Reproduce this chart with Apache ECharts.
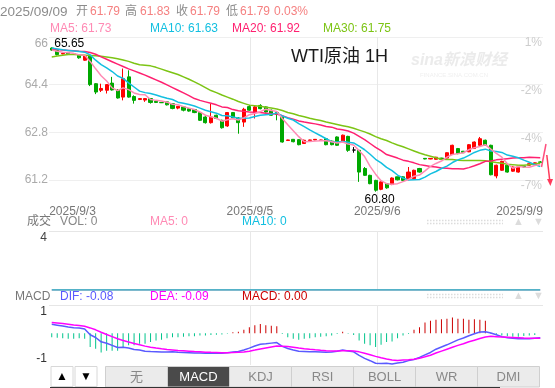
<!DOCTYPE html>
<html><head><meta charset="utf-8">
<script src="https://cdn.jsdelivr.net/npm/echarts@6/dist/echarts.min.js"></script>
<style>html,body{margin:0;padding:0;background:#fff;}#c{width:555px;height:388px;}</style>
</head><body><div id="c"></div>
<script>
// ---- candle data (WTI 1H) ----
const opens = [65.63,65.55,65.43,65.47,65.42,65.38,65.22,65.36,64.43,64.21,64.21,64.45,64.21,63.98,64.66,64.00,63.90,63.88,63.93,63.84,63.80,63.82,63.76,63.61,63.65,63.59,63.56,63.46,63.31,63.12,63.37,63.20,63.01,63.46,63.28,63.14,63.66,63.46,63.70,63.65,63.54,63.46,63.31,62.52,62.56,62.55,62.42,62.52,62.54,62.52,62.58,62.50,62.64,62.47,62.66,62.20,62.19,61.58,61.35,61.18,60.88,61.07,61.04,61.30,61.30,61.24,61.24,61.58,61.92,61.90,61.89,61.93,61.93,62.05,62.25,62.16,62.14,62.25,62.36,62.53,62.36,61.33,61.52,61.69,61.49,61.46,61.66,61.69,61.71,61.80];
const closes = [65.56,65.41,65.45,65.41,65.43,65.30,65.36,64.40,64.15,64.27,64.40,64.22,63.95,64.60,63.98,63.87,63.93,63.93,63.80,63.80,63.79,63.72,63.60,63.67,63.54,63.51,63.46,63.20,63.12,63.31,63.26,62.95,63.46,63.28,63.12,63.57,63.54,63.65,63.59,63.48,63.37,63.40,62.47,62.54,62.48,62.38,62.53,62.54,62.56,62.54,62.38,62.38,62.36,62.70,62.19,62.20,61.46,61.35,61.07,60.85,61.13,60.93,61.26,61.20,61.18,61.46,61.52,61.46,61.90,61.92,61.96,61.89,62.11,62.36,62.08,62.11,62.38,62.47,62.58,62.36,61.37,61.69,61.82,61.46,61.63,61.63,61.63,61.74,61.77,61.79];
const lows = [65.53,65.38,65.42,65.40,65.40,65.27,65.20,64.35,64.08,64.15,64.10,64.20,63.93,63.87,63.96,63.76,63.88,63.82,63.76,63.78,63.78,63.70,63.57,63.57,63.50,63.49,63.44,63.18,63.09,63.09,63.24,62.92,62.98,63.26,62.75,62.98,63.52,63.26,63.57,63.46,63.35,63.20,62.45,62.51,62.46,62.36,62.41,62.51,62.53,62.51,62.36,62.36,62.34,62.45,62.14,62.11,61.13,61.33,61.05,60.80,60.85,60.90,61.02,61.18,61.16,61.18,61.22,61.44,61.89,61.89,61.88,61.88,61.92,62.04,62.06,62.10,62.13,62.24,62.35,62.35,61.35,61.25,61.50,61.44,61.47,61.44,61.62,61.68,61.70,61.79];
const highs = [65.65,65.58,65.47,65.49,65.45,65.40,65.40,65.38,64.45,64.43,64.42,64.66,64.25,64.94,64.88,64.04,63.95,63.95,63.95,63.86,63.81,63.83,63.77,63.68,63.68,63.61,63.58,63.50,63.34,63.76,63.39,63.22,63.48,63.48,63.31,63.62,63.72,63.70,63.74,63.67,63.56,63.48,63.33,62.55,62.57,62.57,62.55,62.55,62.57,62.55,62.60,62.52,62.66,62.72,62.68,62.30,62.21,61.63,61.37,61.20,61.15,61.09,61.28,61.30,61.32,61.63,61.54,61.60,61.93,61.93,61.97,61.94,62.12,62.38,62.27,62.17,62.40,62.49,62.64,62.55,62.38,61.71,61.84,61.71,61.65,61.64,61.67,61.75,61.78,61.83];
// ---- moving averages ----
const ma5 = [65.56,65.52,65.49,65.47,65.45,65.40,65.39,65.18,64.93,64.70,64.52,64.29,64.20,64.29,64.23,64.12,64.07,64.06,63.90,63.87,63.85,63.81,63.74,63.72,63.66,63.61,63.56,63.48,63.37,63.32,63.27,63.17,63.22,63.25,63.21,63.28,63.39,63.43,63.49,63.57,63.53,63.50,63.26,63.05,62.85,62.65,62.48,62.49,62.50,62.51,62.51,62.48,62.44,62.47,62.40,62.37,62.18,61.98,61.65,61.39,61.17,61.07,61.05,61.07,61.14,61.21,61.32,61.36,61.50,61.65,61.75,61.83,61.96,62.05,62.08,62.11,62.21,62.28,62.32,62.38,62.23,62.09,61.96,61.74,61.59,61.65,61.63,61.62,61.68,61.71];
const ma10 = [65.63,65.60,65.57,65.55,65.53,65.51,65.49,65.40,65.22,65.07,64.96,64.84,64.69,64.61,64.46,64.32,64.18,64.13,64.10,64.05,63.99,63.94,63.90,63.81,63.77,63.73,63.68,63.61,63.54,63.49,63.44,63.36,63.35,63.31,63.27,63.27,63.28,63.33,63.37,63.39,63.40,63.45,63.35,63.27,63.21,63.09,62.99,62.88,62.78,62.68,62.58,62.48,62.47,62.49,62.46,62.44,62.33,62.21,62.06,61.89,61.77,61.62,61.51,61.36,61.26,61.19,61.20,61.21,61.29,61.40,61.48,61.58,61.66,61.78,61.87,61.93,62.02,62.12,62.19,62.23,62.17,62.15,62.12,62.03,61.99,61.94,61.86,61.79,61.71,61.65];
const ma20 = [65.59,65.58,65.56,65.55,65.54,65.52,65.51,65.48,65.42,65.33,65.25,65.17,65.09,65.01,64.93,64.86,64.79,64.72,64.64,64.56,64.48,64.39,64.30,64.21,64.12,64.03,63.93,63.87,63.82,63.77,63.72,63.65,63.63,63.56,63.52,63.50,63.48,63.47,63.46,63.44,63.42,63.41,63.35,63.29,63.24,63.18,63.14,63.11,63.08,63.04,62.99,62.97,62.91,62.88,62.84,62.77,62.66,62.55,62.42,62.29,62.18,62.05,61.99,61.93,61.86,61.82,61.77,61.71,61.68,61.65,61.63,61.60,61.59,61.57,61.57,61.56,61.61,61.67,61.74,61.82,61.83,61.87,61.89,61.91,61.93,61.94,61.94,61.96,61.95,61.94];
const ma30 = [65.33,65.36,65.39,65.41,65.41,65.40,65.39,65.38,65.37,65.35,65.33,65.30,65.27,65.23,65.18,65.12,65.07,65.05,65.03,64.98,64.92,64.86,64.80,64.74,64.66,64.58,64.49,64.40,64.30,64.20,64.13,64.05,63.98,63.91,63.83,63.77,63.71,63.69,63.67,63.64,63.61,63.58,63.53,63.46,63.42,63.36,63.32,63.27,63.23,63.19,63.14,63.10,63.06,63.02,62.98,62.93,62.87,62.81,62.74,62.65,62.58,62.52,62.44,62.37,62.31,62.24,62.17,62.10,62.04,61.99,61.94,61.89,61.88,61.88,61.86,61.85,61.85,61.85,61.85,61.84,61.81,61.78,61.76,61.72,61.71,61.69,61.69,61.71,61.73,61.76];
// ---- volume (all zero) ----
const volumes = [0,0,0,0,0,0,0,0,0,0,0,0,0,0,0,0,0,0,0,0,0,0,0,0,0,0,0,0,0,0,0,0,0,0,0,0,0,0,0,0,0,0,0,0,0,0,0,0,0,0,0,0,0,0,0,0,0,0,0,0,0,0,0,0,0,0,0,0,0,0,0,0,0,0,0,0,0,0,0,0,0,0,0,0,0,0,0,0,0,0];
// ---- MACD ----
const macdHist = [-0.07,-0.08,-0.09,-0.10,-0.10,-0.09,-0.10,-0.25,-0.28,-0.35,-0.32,-0.32,-0.32,-0.25,-0.22,-0.22,-0.19,-0.19,-0.16,-0.13,-0.115,-0.09,-0.07,-0.07,-0.06,-0.055,-0.055,-0.04,-0.04,-0.03,-0.025,-0.02,-0.005,0.02,0.03,0.067,0.11,0.15,0.17,0.15,0.14,0.13,-0.01,-0.07,-0.10,-0.115,-0.10,-0.09,-0.07,-0.06,-0.055,-0.04,-0.01,0.03,-0.005,-0.03,-0.13,-0.19,-0.22,-0.25,-0.21,-0.16,-0.15,-0.09,-0.04,-0.01,0.067,0.11,0.20,0.23,0.25,0.26,0.27,0.29,0.27,0.27,0.25,0.26,0.25,0.23,-0.01,-0.03,-0.04,-0.055,-0.06,-0.06,-0.05,-0.04,-0.03,0.00];
const dif = [0.165,0.15,0.134,0.117,0.104,0.098,0.081,-0.026,-0.076,-0.155,-0.18,-0.22,-0.26,-0.256,-0.268,-0.296,-0.305,-0.329,-0.334,-0.335,-0.341,-0.34,-0.339,-0.348,-0.35,-0.355,-0.362,-0.359,-0.364,-0.363,-0.364,-0.364,-0.357,-0.342,-0.333,-0.306,-0.271,-0.232,-0.201,-0.192,-0.179,-0.168,-0.239,-0.278,-0.306,-0.327,-0.332,-0.338,-0.337,-0.34,-0.344,-0.342,-0.328,-0.304,-0.322,-0.338,-0.404,-0.458,-0.501,-0.547,-0.553,-0.548,-0.562,-0.543,-0.53,-0.50,-0.48,-0.44,-0.395,-0.35,-0.29,-0.25,-0.21,-0.165,-0.12,-0.085,-0.043,-0.007,0.024,0.03,0.005,-0.025,-0.06,-0.08,-0.09,-0.10,-0.10,-0.10,-0.09,-0.08];
const dea = [0.20,0.19,0.179,0.167,0.154,0.143,0.131,0.10,0.065,0.021,-0.02,-0.06,-0.10,-0.131,-0.158,-0.186,-0.21,-0.234,-0.254,-0.27,-0.284,-0.295,-0.304,-0.313,-0.32,-0.327,-0.334,-0.339,-0.344,-0.348,-0.351,-0.354,-0.354,-0.352,-0.348,-0.34,-0.326,-0.307,-0.286,-0.267,-0.249,-0.233,-0.234,-0.243,-0.256,-0.27,-0.282,-0.293,-0.302,-0.31,-0.317,-0.322,-0.323,-0.319,-0.319,-0.323,-0.339,-0.363,-0.391,-0.422,-0.448,-0.468,-0.487,-0.498,-0.49,-0.485,-0.475,-0.455,-0.43,-0.40,-0.36,-0.325,-0.29,-0.255,-0.22,-0.19,-0.155,-0.125,-0.095,-0.065,-0.055,-0.06,-0.065,-0.07,-0.075,-0.08,-0.085,-0.088,-0.09,-0.09];
// ---- axis ticks / labels ----
const priceTicks = [61.2, 62.8, 64.4, 66];
const priceTickLabels = ['61.2', '62.8', '64.4', '66'];
const pctTickLabels = ['-7%', '-4%', '-2%', '1%'];
const volTicks = [4];
const volTickLabels = ['4'];
const macdTicks = [-0.58, 0.52];
const macdTickLabels = ['-1', '1'];
const datePositions = [0, 36.6, 59.8, 90];
const dateLabels = ['2025/9/3', '2025/9/5', '2025/9/6', '2025/9/9'];
const dayBoundaries = [36.6, 59.8];
const tabNames = ['无', 'MACD', 'KDJ', 'RSI', 'BOLL', 'WR', 'DMI'];

const FONT = "'Liberation Sans', Arial, 'Noto Sans CJK SC', sans-serif";
const categories = opens.map((_, i) => String(i));
const candleData = opens.map((o, i) => [o, closes[i], lows[i], highs[i]]);

const C = { ma5: '#ff8ab4', ma10: '#12bfe0', ma20: '#ff2070', ma30: '#7cc414', up: '#ff0000', down: '#00a800', gray: '#8c8c8c', val: '#f58080' };

const grids = [
  { left: 49, right: 12, top: 37, height: 166.6 },
  { left: 49, right: 12, top: 231, height: 59 },
  { left: 49, right: 12, top: 305, height: 60 }
];
const xAxis = [];
grids.forEach((g, gi) => {
  xAxis.push({ type: 'category', gridIndex: gi, data: categories, boundaryGap: true,
    axisLine: { show: false }, axisTick: { show: false }, axisLabel: { show: false }, splitLine: { show: false } });
  xAxis.push({ type: 'value', gridIndex: gi, min: 0, max: 90, position: gi === 1 ? 'top' : 'bottom',
    axisLine: { show: false }, axisTick: { show: false, customValues: dayBoundaries },
    splitLine: { show: true, lineStyle: { color: '#e8e8e8', width: 1 } },
    axisLabel: gi === 1 ? {
      show: true, customValues: datePositions, margin: 13, color: '#777', fontSize: 12, fontFamily: FONT,
      showMinLabel: true, showMaxLabel: true,
      formatter: v => {
        const i = datePositions.indexOf(v);
        if (i === 0) return '{l|' + dateLabels[i] + '}';
        if (i === datePositions.length - 1) return '{r|' + dateLabels[i] + '}';
        return dateLabels[i];
      },
      rich: { l: { padding: [0, 0, 0, 47], color: '#777', fontSize: 12, fontFamily: FONT },
              r: { padding: [0, 47, 0, 0], color: '#777', fontSize: 12, fontFamily: FONT } }
    } : { show: false }
  });
});

const yAxis = [
  { type: 'value', gridIndex: 0, min: 60.4, max: 66, position: 'left', scale: true,
    axisLine: { show: false }, axisTick: { show: false, customValues: priceTicks },
    splitLine: { show: true, lineStyle: { color: '#efefef' } },
    axisLabel: { customValues: priceTicks, color: '#aaa', fontSize: 12, fontFamily: FONT, margin: 1, showMaxLabel: true,
      formatter: v => { const i = priceTicks.indexOf(v); return i === priceTicks.length - 1 ? '{t|' + priceTickLabels[i] + '}' : priceTickLabels[i]; },
      rich: { t: { padding: [14, 0, 0, 0], color: '#aaa', fontSize: 12, fontFamily: FONT } } } },
  { type: 'value', gridIndex: 0, min: 60.4, max: 66, position: 'right', scale: true,
    axisLine: { show: false }, axisTick: { show: false, customValues: priceTicks }, splitLine: { show: false },
    axisLabel: { inside: true, customValues: priceTicks, verticalAlign: 'top', color: '#cdcdcd', fontSize: 12, fontFamily: FONT, margin: 1, showMaxLabel: true,
      formatter: v => pctTickLabels[priceTicks.indexOf(v)] } },
  { type: 'value', gridIndex: 1, min: 0, max: 4,
    axisLine: { show: false }, axisTick: { show: false, customValues: volTicks },
    splitLine: { show: true, lineStyle: { color: '#e6e6e6' } },
    axisLabel: { customValues: volTicks, color: '#444', fontSize: 12, fontFamily: FONT, margin: 2, showMaxLabel: true,
      formatter: v => '{t|' + volTickLabels[volTicks.indexOf(v)] + '}',
      rich: { t: { padding: [14, 0, 0, 0], color: '#444', fontSize: 12, fontFamily: FONT } } } },
  { type: 'value', gridIndex: 2, min: -0.58, max: 0.52,
    axisLine: { show: false }, axisTick: { show: false, customValues: [0.52] },
    splitLine: { show: true, lineStyle: { color: '#e6e6e6' } },
    axisLabel: { customValues: macdTicks, color: '#333', fontSize: 12, fontFamily: FONT, margin: 2, showMinLabel: true, showMaxLabel: true,
      formatter: v => { const i = macdTicks.indexOf(v); return i === 1 ? '{t|' + macdTickLabels[i] + '}' : '{b|' + macdTickLabels[i] + '}'; },
      rich: { t: { padding: [14, 0, 0, 0], color: '#333', fontSize: 12, fontFamily: FONT },
              b: { padding: [0, 0, 12, 0], color: '#333', fontSize: 12, fontFamily: FONT } } } }
];

function lineSeries(name, data, color, xi, yi, w) {
  return { name, type: 'line', data, xAxisIndex: xi, yAxisIndex: yi, showSymbol: false, symbol: 'none',
    lineStyle: { color, width: w || 1.5 }, itemStyle: { color }, silent: true, z: 3 };
}

const series = [
  { name: 'K', type: 'candlestick', xAxisIndex: 0, yAxisIndex: 0, data: candleData, barWidth: 3.6,
    itemStyle: { color: C.up, color0: C.down, borderColor: C.up, borderColor0: C.down, borderColorDoji: '#000', borderWidth: 1 },
    markPoint: {
      symbol: 'circle', symbolSize: 1, itemStyle: { color: 'rgba(0,0,0,0)' }, silent: true,
      label: { color: '#000', fontSize: 12, fontFamily: FONT, formatter: p => Number(p.value).toFixed(2) },
      data: [
        { type: 'max', valueDim: 'highest', label: { position: 'right', distance: 2, offset: [0, -4] } },
        { type: 'min', valueDim: 'lowest', label: { position: 'bottom', distance: 1, offset: [4, 0] } }
      ]
    } },
  lineSeries('MA30', ma30, C.ma30, 0, 0),
  lineSeries('MA20', ma20, C.ma20, 0, 0),
  lineSeries('MA10', ma10, C.ma10, 0, 0),
  lineSeries('MA5', ma5, C.ma5, 0, 0),
  { name: 'VOL', type: 'bar', xAxisIndex: 2, yAxisIndex: 2, data: volumes, barWidth: 3, itemStyle: { color: C.down } },
  lineSeries('VMA5', volumes, C.ma5, 2, 2, 1.5),
  lineSeries('VMA10', volumes, '#1bb6c9', 2, 2, 1.5),
  { name: 'MACD', type: 'bar', xAxisIndex: 4, yAxisIndex: 3, data: macdHist, barWidth: 1, silent: true,
    itemStyle: { color: p => p.value >= 0 ? '#cc0000' : '#00c48c' } },
  lineSeries('DIF', dif, '#5a5aff', 4, 3, 1.5),
  lineSeries('DEA', dea, '#ff00ff', 4, 3, 1.5)
];

// ---- decorations / header texts ----
const G = [];
function txt(x, y, text, fill, size, extra) {
  G.push({ type: 'text', x, y, silent: true, z: 10,
    style: Object.assign({ text, fill, font: size + 'px ' + FONT, verticalAlign: 'middle', align: 'left' }, extra || {}) });
}
txt(0, 12, '2025/09/09', C.gray, 13.5);
txt(76, 12, '开', C.gray, 12); txt(90, 12, '61.79', C.val, 12);
txt(125, 12, '高', C.gray, 12); txt(140, 12, '61.83', C.val, 12);
txt(176, 12, '收', C.gray, 12); txt(190, 12, '61.79', C.val, 12);
txt(226, 12, '低', C.gray, 12); txt(240, 12, '61.79', C.val, 12);
txt(274, 12, '0.03%', C.val, 12);
txt(50, 29, 'MA5: 61.73', C.ma5, 12);
txt(150, 29, 'MA10: 61.63', C.ma10, 12);
txt(232, 29, 'MA20: 61.92', C.ma20, 12);
txt(323, 29, 'MA30: 61.75', C.ma30, 12);
txt(291, 57, 'WTI原油 1H', '#1a1a1a', 18);
txt(411, 61, 'sina新浪财经', '#ebebeb', 16, { font: 'italic bold 16px ' + FONT });
txt(420, 75, 'FINANCE.SINA.COM.CN', '#efefef', 6);
txt(27, 222, '成交', '#777', 12);
txt(60, 222, 'VOL: 0', '#888', 12);
txt(150, 222, 'MA5: 0', C.ma5, 12);
txt(242, 222, 'MA10: 0', C.ma10, 12);
txt(15, 297, 'MACD', '#777', 12);
txt(60, 297, 'DIF: -0.08', '#5a5aff', 12);
txt(150, 297, 'DEA: -0.09', '#ff00ff', 12);
txt(242, 297, 'MACD: 0.00', '#cc0000', 12);
[222, 296].forEach(y => {
  G.push({ type: 'line', silent: true, shape: { x1: 427, y1: y - 1.5, x2: 503, y2: y - 1.5 }, style: { stroke: '#dcdcdc', lineWidth: 1.5, lineDash: [1.5, 1.5] } });
  G.push({ type: 'line', silent: true, shape: { x1: 427, y1: y + 1.5, x2: 503, y2: y + 1.5 }, style: { stroke: '#dcdcdc', lineWidth: 1.5, lineDash: [1.5, 1.5] } });
  txt(513, y, '▲', '#dcdcdc', 11);
  txt(533, y, '▼', '#dcdcdc', 11);
});
// right edge arrow marks
G.push({ type: 'polyline', silent: true, shape: { points: [[541.5, 167], [546, 144]] }, style: { stroke: '#ff4f7e', lineWidth: 1.5, fill: null } });
G.push({ type: 'polyline', silent: true, shape: { points: [[546.8, 155], [549.8, 181]] }, style: { stroke: '#ff3a5a', lineWidth: 1.5, fill: null } });
G.push({ type: 'polygon', silent: true, shape: { points: [[547, 179], [553, 179], [550.4, 186]] }, style: { fill: '#ff3a5a' } });
// bottom tab bar
G.push({ type: 'rect', silent: true, shape: { x: 51, y: 366.5, width: 22, height: 20 }, style: { fill: '#fff', stroke: '#d8d8d8' } });
G.push({ type: 'rect', silent: true, shape: { x: 75, y: 366.5, width: 22, height: 20 }, style: { fill: '#fff', stroke: '#d8d8d8' } });
txt(56, 377, '▲', '#000', 12);
txt(80, 377, '▼', '#000', 12);
tabNames.forEach((name, k) => {
  const x = 105.5 + 62 * k;
  const sel = name === 'MACD';
  G.push({ type: 'rect', silent: true, shape: { x, y: 366.5, width: 62, height: 20.5 }, style: { fill: sel ? '#4a4a4a' : '#ebebeb', stroke: '#cfcfcf' } });
  txt(x + 31, 377, name, sel ? '#fff' : '#888', 13, { align: 'center' });
});
G.push({ type: 'line', silent: true, shape: { x1: 50, y1: 387.5, x2: 500, y2: 387.5 }, style: { stroke: '#333', lineWidth: 1 } });

const chart = echarts.init(document.getElementById('c'), null, { renderer: 'canvas' });
chart.setOption({
  animation: false,
  backgroundColor: '#fff',
  textStyle: { fontFamily: FONT },
  grid: grids,
  xAxis, yAxis, series,
  graphic: G
});
</script>
</body></html>
